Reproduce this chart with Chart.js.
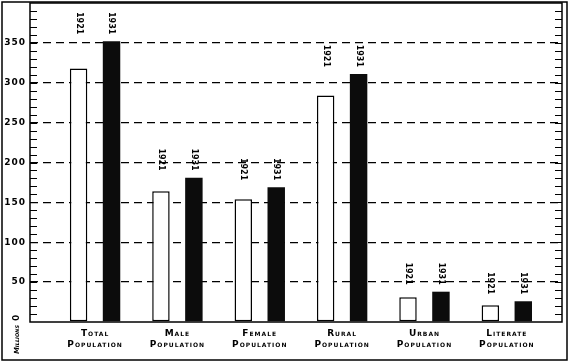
<!DOCTYPE html>
<html>
<head>
<meta charset="utf-8">
<script src="https://cdn.jsdelivr.net/npm/chart.js@4"></script>
<style>
  body { margin: 0; background: #fff; }
  canvas { display: block; }
</style>
</head>
<body>
<canvas id="chart" width="568" height="363"></canvas>
<script>
// categories and values (millions)
const categories = [
    ['Total', 'Population'],
    ['Male', 'Population'],
    ['Female', 'Population'],
    ['Rural', 'Population'],
    ['Urban', 'Population'],
    ['Literate', 'Population']
];
const years = ['1921', '1931'];
const values1921 = [318, 164, 154, 284, 31, 21];
const values1931 = [352, 181, 169, 311, 38, 26];
const yLabelTicks = [50, 100, 150, 200, 250, 300, 350];

const toPoints = arr => arr.map((v, i) => ({ x: i, y: v }));

// frame, minor ticks, year labels and the "Millions 0" note
const decorations = {
    id: 'decorations',
    beforeDraw(chart) {
        chart.ctx.letterSpacing = '1px';
    },
    afterDraw(chart) {
        const { ctx, chartArea: a } = chart;
        const yScale = chart.scales.y;
        ctx.save();
        ctx.strokeStyle = '#000';

        // outer border
        ctx.lineWidth = 1.5;
        ctx.strokeRect(2, 2, 565, 358);

        // plot frame
        ctx.lineWidth = 1.5;
        ctx.strokeRect(a.left, a.top, a.right - a.left, a.bottom - a.top);

        // minor ticks, every 10, on both sides
        ctx.lineWidth = 1.2;
        for (let v = 10; v < 400; v += 10) {
            const y = Math.round(yScale.getPixelForValue(v)) + 0.5;
            ctx.beginPath();
            ctx.moveTo(a.left, y); ctx.lineTo(a.left + 7, y);
            ctx.moveTo(a.right - 7, y); ctx.lineTo(a.right, y);
            ctx.stroke();
        }

        // year labels above each pair
        ctx.fillStyle = '#000';
        ctx.font = 'bold 8px "DejaVu Sans"';
        ctx.letterSpacing = '0px';
        const m0 = chart.getDatasetMeta(0).data;
        const m1 = chart.getDatasetMeta(1).data;
        categories.forEach((c, i) => {
            const top = Math.min(m0[i].y, m1[i].y) - 7;
            [m0[i], m1[i]].forEach((bar, k) => {
                ctx.save();
                ctx.translate(bar.x, top);
                ctx.rotate(Math.PI / 2);
                ctx.textAlign = 'right';
                ctx.textBaseline = 'middle';
                ctx.fillText(years[k], 0, 0);
                ctx.restore();
            });
        });

        // "Millions 0" written up the left edge
        ctx.save();
        ctx.translate(17, 321);
        ctx.rotate(-Math.PI / 2);
        ctx.textAlign = 'left';
        ctx.textBaseline = 'middle';
        ctx.font = 'bold 9px "DejaVu Sans"';
        ctx.fillText('0', 0, 0);
        ctx.font = 'italic small-caps bold 7px "DejaVu Sans"';
        ctx.letterSpacing = '0px';
        ctx.textAlign = 'right';
        ctx.fillText('Millions', -4, 0);
        ctx.restore();

        ctx.restore();
    }
};

new Chart(document.getElementById('chart'), {
    type: 'bar',
    data: {
        datasets: [
            {
                label: years[0],
                data: toPoints(values1921),
                backgroundColor: '#ffffff',
                borderColor: '#000000',
                borderWidth: 1.5,
                borderSkipped: false
            },
            {
                label: years[1],
                data: toPoints(values1931),
                backgroundColor: '#0c0c0c',
                borderColor: '#000000',
                borderWidth: 0
            }
        ]
    },
    options: {
        responsive: false,
        animation: false,
        events: [],
        layout: { padding: { top: 3, right: 6, left: 0, bottom: 0 } },
        categoryPercentage: 0.8,
        barPercentage: 0.53,
        plugins: {
            legend: { display: false },
            tooltip: { enabled: false }
        },
        scales: {
            x: {
                type: 'linear',
                offset: false,
                min: -0.79,
                max: 5.67,
                grid: { display: false, drawTicks: false, offset: false },
                border: { display: false },
                afterBuildTicks: scale => {
                    scale.ticks = categories.map((c, i) => ({ value: i }));
                },
                afterFit: scale => {
                    scale.height = 41;
                    scale.paddingLeft = 0;
                    scale.paddingRight = 0;
                },
                ticks: {
                    autoSkip: false,
                    maxRotation: 0,
                    padding: 6,
                    color: '#000',
                    font: { family: 'DejaVu Sans', size: 9, weight: 'small-caps bold', lineHeight: 1.2 },
                    callback: v => categories[v]
                }
            },
            y: {
                min: 0,
                max: 400,
                grid: {
                    drawTicks: false,
                    lineWidth: 1.3,
                    color: ctx => yLabelTicks.includes(ctx.tick.value) ? '#000' : 'rgba(0,0,0,0)'
                },
                border: { display: false, dash: [8, 5] },
                afterFit: scale => {
                    scale.width = 30;
                    scale.paddingTop = 0;
                    scale.paddingBottom = 0;
                },
                ticks: {
                    stepSize: 10,
                    autoSkip: false,
                    padding: 4,
                    color: '#000',
                    font: { family: 'DejaVu Sans', size: 9, weight: 'bold' },
                    callback: v => yLabelTicks.includes(v) ? String(v) : ''
                }
            }
        }
    },
    plugins: [decorations]
});
</script>
</body>
</html>
